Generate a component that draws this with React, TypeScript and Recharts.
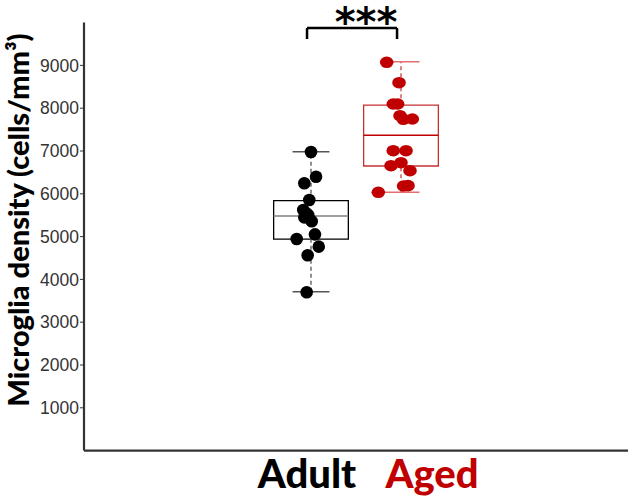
import React from 'react';
import { ComposedChart, Scatter, XAxis, YAxis, ReferenceArea, ReferenceLine } from 'recharts';

// ---- data ----
const categories = ['Adult', 'Aged'];
const categoryPos = [1, 2];
const yTicks = [1000, 2000, 3000, 4000, 5000, 6000, 7000, 8000, 9000];

const adultValues = [6976, 6400, 6245, 5855, 5620, 5540, 5500, 5450, 5360, 5053, 4944, 4765, 4563, 3699];
const adultJitter = [0.0, 0.056, -0.074, -0.019, -0.086, -0.048, -0.03, -0.074, 0.008, 0.044, -0.159, 0.086, -0.037, -0.048];

const agedValues = [9072, 8596, 8098, 8098, 7825, 7741, 7748, 7007, 7007, 6657, 6727, 6540, 6182, 6190, 6035];
const agedJitter = [-0.159, -0.022, -0.086, -0.037, -0.011, 0.026, 0.126, -0.086, 0.056, -0.111, 0.0, 0.1, 0.028, 0.078, -0.252];

// box stats: [whiskerLow, q1, median, q3, whiskerHigh]
const adultBox = [3710, 4940, 5480, 5840, 6980];
const agedBox = [6035, 6650, 7370, 8070, 9087];

const bracketX = [0.956, 1.956];
const bracketY = [9617, 9874];
const significance = '***';

const BOX_HALF = 0.415;
const CAP_HALF = 0.205;

const adultData = adultValues.map((v, i) => ({ x: categoryPos[0] + adultJitter[i], y: v }));
const agedData = agedValues.map((v, i) => ({ x: categoryPos[1] + agedJitter[i], y: v }));

const RED = '#c00000';

const AdultDot = (p: any) => <circle cx={p.cx} cy={p.cy} r={6.3} fill="#000" />;
const AgedDot = (p: any) => <ellipse cx={p.cx} cy={p.cy} rx={6.8} ry={5.8} fill={RED} />;

const XTick = (p: any) => {
  const v = p.payload.value;
  const idx = categoryPos.indexOf(v);
  const dx = idx === 0 ? -4 : 31;
  return (
    <text
      x={p.x + dx}
      y={p.y + 37}
      textAnchor="middle"
      fontFamily="Lato"
      fontWeight={900}
      fontSize={40}
      fill={idx === 0 ? '#000' : RED}
    >
      {categories[idx]}
    </text>
  );
};

function boxElements(pos: number, b: number[], edge: string, median: string, cap: string, whisker: string, key: string) {
  return [
    <ReferenceLine key={key + 'wl'} segment={[{ x: pos, y: b[0] }, { x: pos, y: b[1] }]} stroke={whisker} strokeDasharray="4 3" strokeWidth={1.3} />,
    <ReferenceLine key={key + 'wh'} segment={[{ x: pos, y: b[3] }, { x: pos, y: b[4] }]} stroke={whisker} strokeDasharray="4 3" strokeWidth={1.3} />,
    <ReferenceLine key={key + 'cl'} segment={[{ x: pos - CAP_HALF, y: b[0] }, { x: pos + CAP_HALF, y: b[0] }]} stroke={cap} strokeWidth={1.5} />,
    <ReferenceLine key={key + 'ch'} segment={[{ x: pos - CAP_HALF, y: b[4] }, { x: pos + CAP_HALF, y: b[4] }]} stroke={cap} strokeWidth={1.5} />,
    <ReferenceArea key={key + 'box'} x1={pos - BOX_HALF} x2={pos + BOX_HALF} y1={b[1]} y2={b[3]} fill="none" fillOpacity={0} stroke={edge} strokeWidth={1.3} strokeOpacity={1} />,
    <ReferenceLine key={key + 'md'} segment={[{ x: pos - BOX_HALF, y: b[2] }, { x: pos + BOX_HALF, y: b[2] }]} stroke={median} strokeWidth={1.5} />,
  ];
}

export default function App() {
  return (
    <div style={{ position: 'absolute', left: 0, top: 0, width: 631, height: 497, background: '#fff' }}>
      <ComposedChart width={631} height={497} margin={{ top: 22.6, right: 3, bottom: 0, left: 0 }}>
        <XAxis
          type="number"
          dataKey="x"
          domain={[-1.522, 4.522]}
          ticks={categoryPos}
          allowDataOverflow
          tickLine={false}
          tickSize={0}
          tickMargin={0}
          height={46.4}
          axisLine={{ stroke: '#333', strokeWidth: 2.2 }}
          tick={<XTick />}
        />
        <YAxis
          type="number"
          dataKey="y"
          domain={[0, 10000]}
          ticks={yTicks}
          width={84}
          tickSize={4}
          tickMargin={1}
          axisLine={{ stroke: '#333', strokeWidth: 2.2 }}
          tickLine={{ stroke: '#333', strokeWidth: 1 }}
          tick={{ fill: '#333', fontSize: 17.5, fontFamily: 'Liberation Sans, Arial' }}
          label={{
            content: () => (
              <text
                transform="translate(29,220) rotate(-90)"
                textAnchor="middle"
                fontFamily="Lato"
                fontWeight={900}
                fontSize={29}
                fill="#000"
              >
                Microglia density (cells/mm³)
              </text>
            ),
          }}
        />
        {boxElements(categoryPos[0], adultBox, '#000', '#808080', '#555', '#555', 'a')}
        {boxElements(categoryPos[1], agedBox, '#c83030', RED, '#e07070', '#c84040', 'g')}
        <ReferenceLine segment={[{ x: bracketX[0], y: bracketY[0] }, { x: bracketX[0], y: bracketY[1] }]} stroke="#000" strokeWidth={2.5} />
        <ReferenceLine segment={[{ x: bracketX[1], y: bracketY[0] }, { x: bracketX[1], y: bracketY[1] }]} stroke="#000" strokeWidth={2.5} />
        <ReferenceLine
          segment={[{ x: bracketX[0], y: bracketY[1] }, { x: bracketX[1], y: bracketY[1] }]}
          stroke="#000"
          strokeWidth={2.5}
          label={{
            content: (lp: any) => {
              const vb = lp.viewBox || {};
              const cx = (vb.x ?? 0) + (vb.width ?? 0) / 2 + 14;
              return (
                <text x={cx} y={36} textAnchor="middle" fontFamily="DejaVu Sans" fontWeight={700} fontSize={40} fill="#000">
                  {significance}
                </text>
              );
            },
          }}
        />
        <Scatter data={adultData} dataKey="y" shape={<AdultDot />} isAnimationActive={false} />
        <Scatter data={agedData} dataKey="y" shape={<AgedDot />} isAnimationActive={false} />
      </ComposedChart>
    </div>
  );
}
